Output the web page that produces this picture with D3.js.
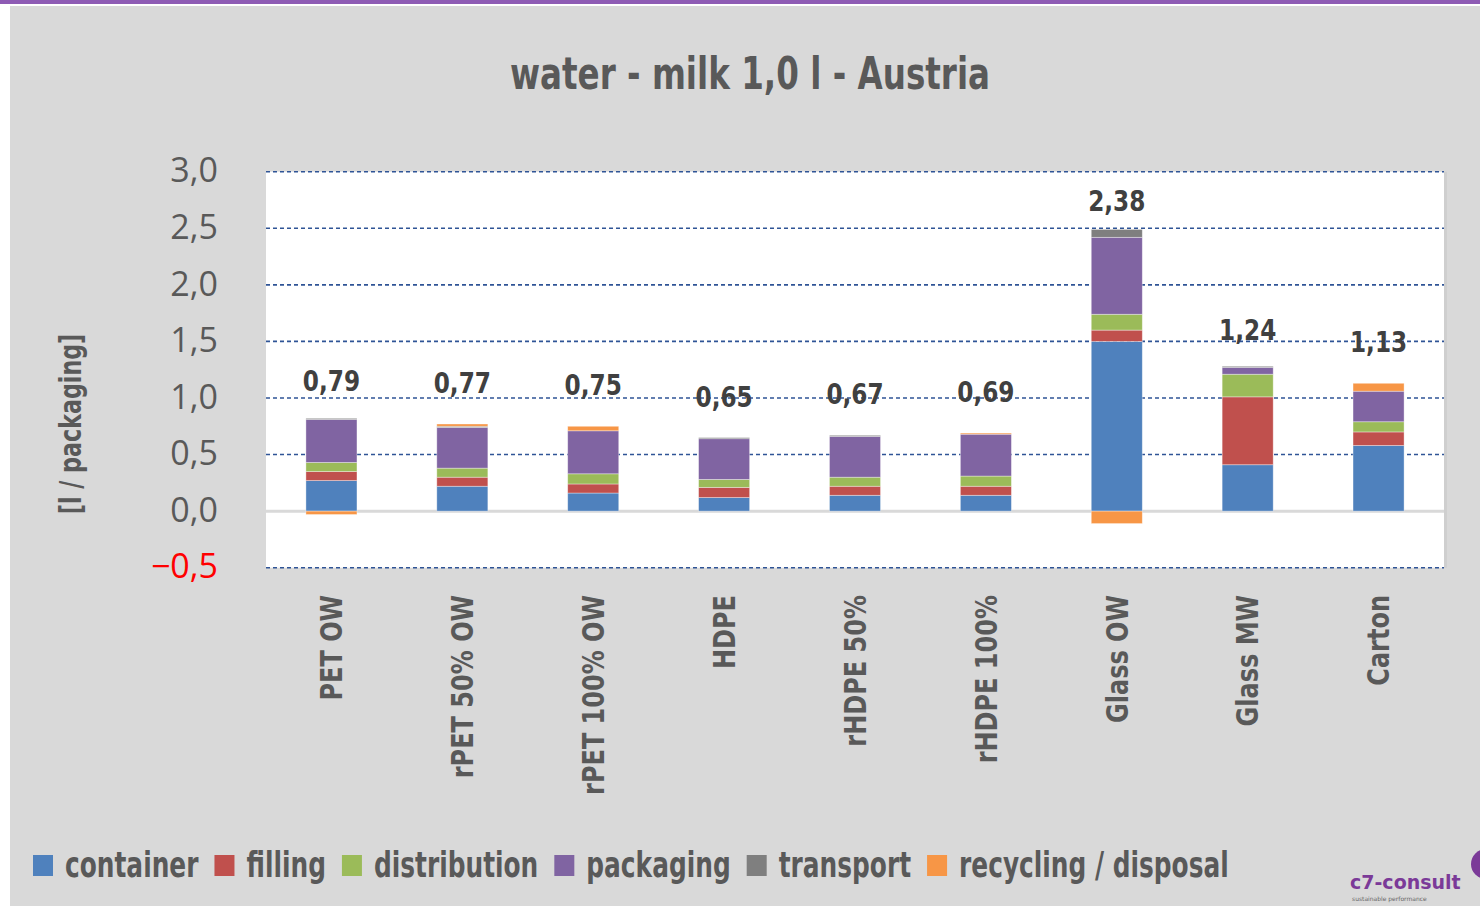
<!DOCTYPE html>
<html>
<head>
<meta charset="utf-8">
<script src="https://cdn.jsdelivr.net/npm/d3@7"></script>
<style>
  body { margin: 0; background: #fff; }
  svg { display: block; }
</style>
</head>
<body>
<div id="chart"></div>
<script>
// chart values
var categories = ["PET OW", "rPET 50% OW", "rPET 100% OW", "HDPE", "rHDPE 50%", "rHDPE 100%", "Glass OW", "Glass MW", "Carton"];
var seriesNames = ["container", "filling", "distribution", "packaging", "transport", "recycling / disposal"];
var container    = [0.27, 0.22, 0.16, 0.12, 0.14, 0.14, 1.50, 0.41, 0.58];
var filling      = [0.08, 0.08, 0.08, 0.09, 0.08, 0.08, 0.10, 0.60, 0.12];
var distribution = [0.08, 0.08, 0.09, 0.07, 0.08, 0.09, 0.14, 0.20, 0.09];
var packaging    = [0.38, 0.36, 0.38, 0.36, 0.36, 0.37, 0.68, 0.06, 0.27];
var transport    = [0.01, 0.01, 0.00, 0.01, 0.01, 0.00, 0.07, 0.01, 0.00];
var recycling    = [-0.03, 0.02, 0.04, 0.00, 0.00, 0.01, -0.11, 0.00, 0.07];
var totals       = [0.79, 0.77, 0.75, 0.65, 0.67, 0.69, 2.38, 1.24, 1.13];
var yTicks = [-0.5, 0, 0.5, 1, 1.5, 2, 2.5, 3];
var colors = ["#4f81bd", "#c0504d", "#9bbb59", "#8064a2", "#7f7f7f", "#f79646"];

var width = 1480;
var height = 906;
var narrowFont = "'DejaVu Sans', sans-serif";
var textColor = "#595959";

var locale = d3.formatLocale({ decimal: ",", thousands: ".", grouping: [3], currency: ["", "€"] });
var fmt1 = locale.format(".1f");
var fmt2 = locale.format(".2f");

// no condensed font installed, so squeeze the glyphs horizontally
var squeeze = function(sel, f) {
  sel.each(function() {
    var w = this.getComputedTextLength();
    d3.select(this)
      .attr("textLength", w * f)
      .attr("lengthAdjust", "spacingAndGlyphs");
  });
};

// build rows for the stack
var rows = categories.map(function(c, i) {
  return {
    cat: c,
    "container": container[i],
    "filling": filling[i],
    "distribution": distribution[i],
    "packaging": packaging[i],
    "transport": transport[i],
    "recycling / disposal": recycling[i]
  };
});

var stack = d3.stack()
  .keys(seriesNames)
  .offset(d3.stackOffsetDiverging);
var layers = stack(rows);

var svg = d3.select("#chart").append("svg")
  .attr("width", width)
  .attr("height", height);

// page frame: purple strip on top, gray panel
svg.append("rect").attr("x", 0).attr("y", 0).attr("width", width).attr("height", 4).attr("fill", "#8e5bb4");
svg.append("rect").attr("x", 10).attr("y", 6).attr("width", width - 10).attr("height", height - 6).attr("fill", "#d9d9d9");

var x = d3.scaleBand()
  .domain(categories)
  .range([266, 1444])
  .paddingInner(0.61)
  .paddingOuter(0.305);

var y = d3.scaleLinear()
  .domain([-0.5, 3])
  .range([567.7, 171.7]);

// plot area
svg.append("rect")
  .attr("x", 266)
  .attr("y", y(3))
  .attr("width", 1444 - 266)
  .attr("height", y(-0.5) - y(3))
  .attr("fill", "#fff");
svg.append("rect")
  .attr("x", 1444)
  .attr("y", y(3))
  .attr("width", 3)
  .attr("height", y(-0.5) - y(3))
  .attr("fill", "#cfcfcf");

// title
svg.append("text")
  .attr("x", 750)
  .attr("y", 89)
  .attr("text-anchor", "middle")
  .style("font-family", narrowFont)
  .style("font-weight", "bold")
  .style("font-size", "44px")
  .style("fill", textColor)
  .text("water - milk 1,0 l - Austria")
  .call(squeeze, 0.74);

// grid lines
svg.append("g").selectAll("line")
  .data(yTicks.filter(function(d) { return d !== 0; }))
  .enter()
  .append("line")
  .attr("x1", 266)
  .attr("x2", 1444)
  .attr("y1", function(d) { return y(d); })
  .attr("y2", function(d) { return y(d); })
  .style("stroke", "#2f5496")
  .style("stroke-width", 1.6)
  .style("stroke-dasharray", "4,3");

svg.append("line")
  .attr("x1", 266)
  .attr("x2", 1444)
  .attr("y1", y(0))
  .attr("y2", y(0))
  .style("stroke", "#d9d9d9")
  .style("stroke-width", 3);

// y axis labels
var yAxis = d3.axisLeft(y)
  .tickValues(yTicks)
  .tickSize(0)
  .tickPadding(0)
  .tickFormat(function(d) { return fmt1(d); });
var yg = svg.append("g")
  .attr("transform", "translate(218,0)")
  .call(yAxis);
yg.select(".domain").remove();
yg.selectAll("text")
  .style("font-family", "'Open Sans', 'DejaVu Sans', sans-serif")
  .style("font-size", "34px")
  .style("fill", function(d) { return d < 0 ? "#ff0000" : textColor; })
  .attr("dy", "0.3em");

// y axis title
svg.append("text")
  .attr("transform", "translate(81,424) rotate(-90)")
  .attr("text-anchor", "middle")
  .style("font-family", narrowFont)
  .style("font-weight", "bold")
  .style("font-size", "30px")
  .style("fill", textColor)
  .text("[l / packaging]")
  .call(squeeze, 0.74);

// bars
var series = svg.append("g").selectAll("g")
  .data(layers)
  .enter()
  .append("g")
  .style("fill", function(d, i) { return colors[i]; });

series.selectAll("rect")
  .data(function(d) { return d; })
  .enter()
  .append("rect")
  .attr("x", function(d) { return x(d.data.cat); })
  .attr("width", x.bandwidth())
  .attr("y", function(d) { return y(Math.max(d[0], d[1])); })
  .attr("height", function(d) { return Math.abs(y(d[0]) - y(d[1])); })
  .style("stroke", "rgba(255,255,255,0.45)")
  .style("stroke-width", 0.8);

// total labels
svg.append("g").selectAll("text")
  .data(categories)
  .enter()
  .append("text")
  .attr("x", function(d) { return x(d) + x.bandwidth() / 2; })
  .attr("y", function(d, i) { return y(totals[i]) - 41; })
  .attr("dy", "0.35em")
  .attr("text-anchor", "middle")
  .style("font-family", narrowFont)
  .style("font-weight", "bold")
  .style("font-size", "29px")
  .style("fill", "#404040")
  .text(function(d, i) { return fmt2(totals[i]); })
  .call(squeeze, 0.8);

// category labels, rotated
var xAxis = d3.axisBottom(x).tickSize(0).tickPadding(0);
var xg = svg.append("g")
  .attr("transform", "translate(0,595)")
  .call(xAxis);
xg.select(".domain").remove();
xg.selectAll("text")
  .attr("transform", "rotate(-90)")
  .attr("x", 0)
  .attr("y", 0)
  .attr("dy", "0.36em")
  .attr("text-anchor", "end")
  .style("font-family", narrowFont)
  .style("font-weight", "bold")
  .style("font-size", "30px")
  .style("fill", textColor)
  .call(squeeze, 0.8);

// legend, laid out left to right
var legend = svg.append("g").attr("transform", "translate(0,865)");
var legendSqueeze = 0.71;
var lx = 33;
seriesNames.forEach(function(name, i) {
  legend.append("rect")
    .attr("x", lx)
    .attr("y", -10)
    .attr("width", 20)
    .attr("height", 21)
    .style("fill", colors[i]);
  var t = legend.append("text")
    .attr("x", lx + 32)
    .attr("y", 0)
    .attr("dy", "0.35em")
    .style("font-family", narrowFont)
    .style("font-weight", "bold")
    .style("font-size", "35px")
    .style("fill", textColor)
    .text(name);
  var w = t.node().getComputedTextLength() * legendSqueeze;
  t.attr("textLength", w).attr("lengthAdjust", "spacingAndGlyphs");
  lx = lx + 32 + w + 16;
});

// logo
svg.append("text")
  .attr("x", 1350)
  .attr("y", 889)
  .style("font-family", narrowFont)
  .style("font-weight", "bold")
  .style("font-size", "19px")
  .style("fill", "#7b3a98")
  .text("c7-consult");
svg.append("text")
  .attr("x", 1352)
  .attr("y", 901)
  .style("font-family", "'DejaVu Sans', sans-serif")
  .style("font-size", "6px")
  .style("fill", "#666")
  .text("sustainable performance");
svg.append("circle")
  .attr("cx", 1486)
  .attr("cy", 864)
  .attr("r", 15)
  .style("fill", "#7b3a98");
</script>
</body>
</html>
